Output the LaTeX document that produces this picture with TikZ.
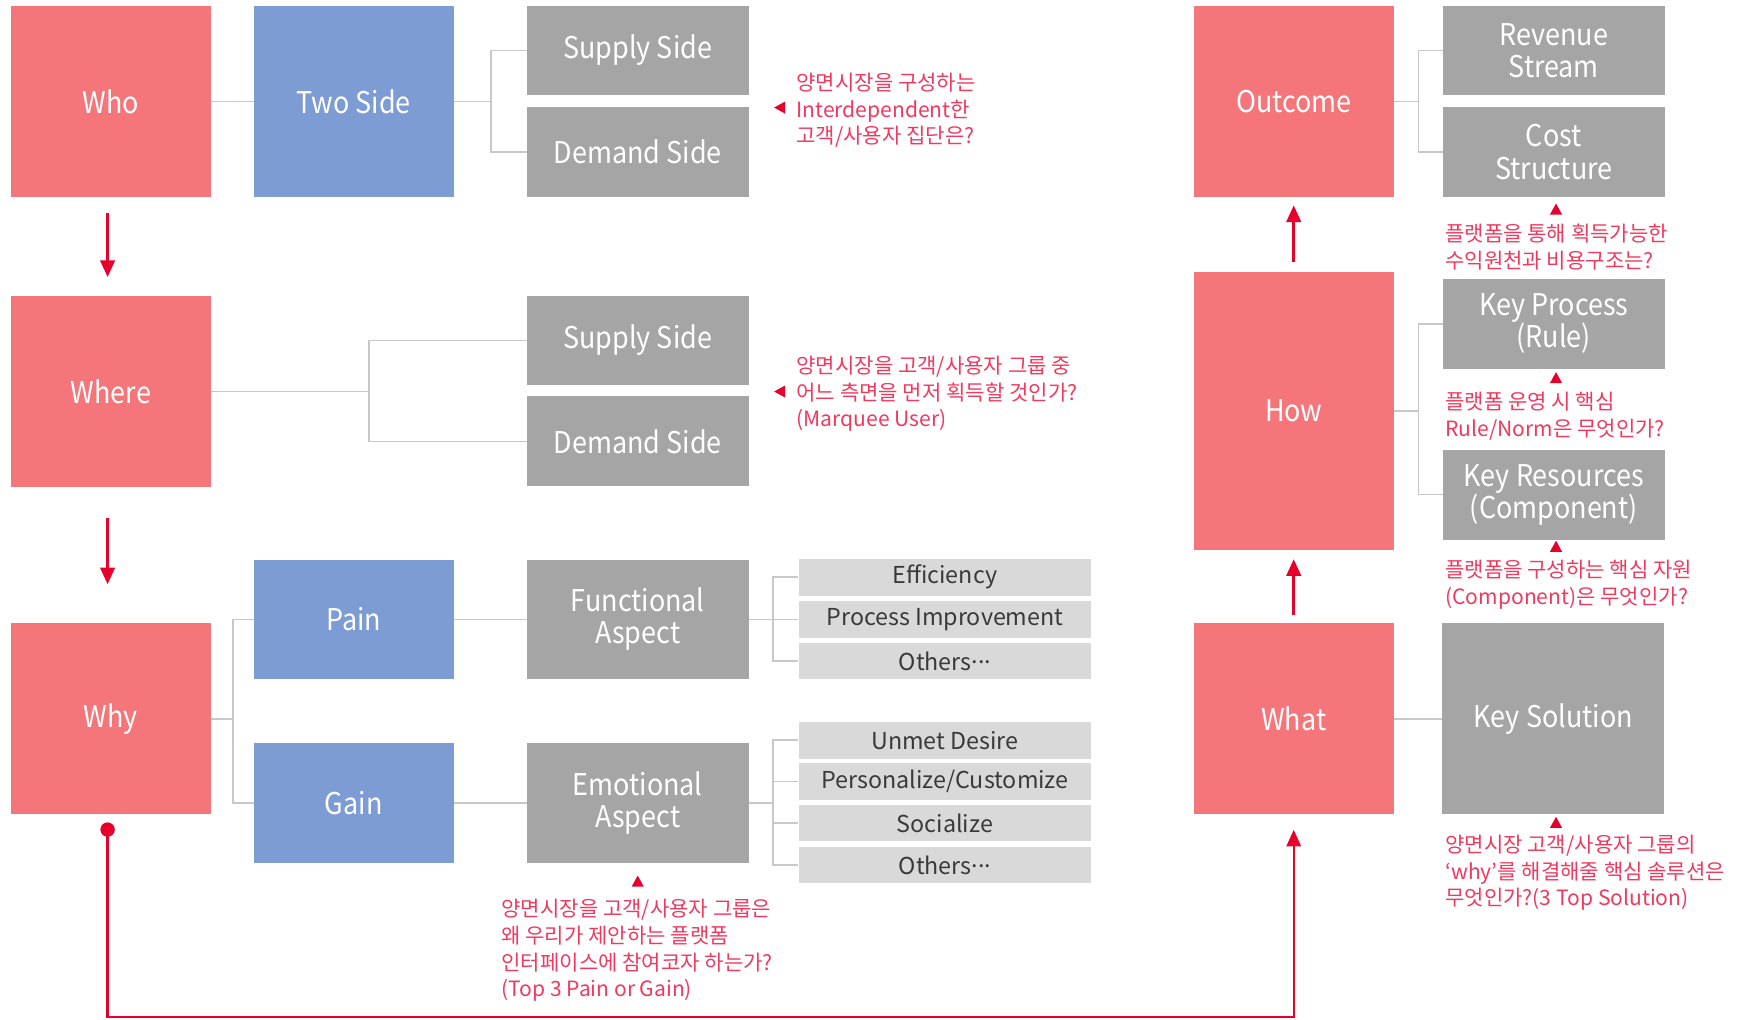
\documentclass[tikz,border=0pt]{standalone}
\usepackage{fontspec}
\newfontfamily\krfont{Noto Sans CJK KR}
\newfontfamily\krnarrow[FakeStretch=0.9]{Noto Sans CJK KR}
\usetikzlibrary{shapes,arrows.meta}

\definecolor{boxred}{HTML}{F4767A}
\definecolor{boxblue}{HTML}{7D9CD4}
\definecolor{boxgray}{HTML}{A5A5A5}
\definecolor{itemgray}{HTML}{D9D9D9}
\definecolor{itemtext}{HTML}{3A3A3A}
\definecolor{linegray}{HTML}{C8C8C8}
\definecolor{arrowred}{HTML}{E8002D}
\definecolor{notered}{HTML}{EF3A5F}

\tikzset{
  base/.style={inner sep=0pt, align=center, text=white,
    font=\krnarrow\fontsize{27}{29}\selectfont},
  redbox/.style={base, fill=boxred, minimum width=180, minimum height=173},
  bluebox/.style={base, fill=boxblue, minimum width=180, minimum height=108},
  graybox/.style={base, fill=boxgray, minimum width=200, minimum height=81},
  itembox/.style={inner sep=0pt, fill=itemgray, text=itemtext, minimum width=264,
    minimum height=33, font=\krfont\fontsize{21}{24}\selectfont},
  note/.style={inner sep=0pt, anchor=west, align=left, text=notered,
    font=\krfont\fontsize{19}{24}\selectfont},
  conn/.style={linegray, line width=1.5},
  bigarrow/.style={arrowred, line width=2.5, -{Triangle[length=15,width=13]}}
}
\newcommand\leftmarker[1]{\fill[arrowred] (#1) ++(-5,0) -- ++(10,-5.5) -- ++(0,11) -- cycle;}
\newcommand\upmarker[1]{\fill[arrowred] (#1) ++(-5.5,4.5) -- ++(11,0) -- ++(-5.5,-10) -- cycle;}
\newcommand\middots{\raisebox{0.28em}{...}}

\begin{document}
\begin{tikzpicture}[x=1pt,y=-1pt]
\useasboundingbox (0,0) rectangle (1568,919);

% left column: who / where / why
\node[redbox] (who) at (100,91.5) {Who};
\node[redbox, fill=boxblue] (twoside) at (319,91.5) {Two Side};
\node[graybox] (supply1) at (575,45.5) {Supply Side};
\node[graybox] (demand1) at (575,137) {Demand Side};
\coordinate (tsfork) at (443,91.5);
\draw[conn] (who) -- (twoside);
\draw[conn] (twoside) -- (tsfork);
\draw[conn] (tsfork) |- (supply1);
\draw[conn] (tsfork) |- (demand1);
\leftmarker{703,97}
\node[note] (note1) at (718,99.5) {양면시장을 구성하는\\Interdependent한\\고객/사용자 집단은?};

\node[redbox, minimum height=172] (where) at (100,353) {Where};
\node[graybox] (supply2) at (575,307) {Supply Side};
\node[graybox] (demand2) at (575,398) {Demand Side};
\coordinate (wherefork) at (333,353);
\draw[conn] (where) -- (wherefork);
\draw[conn] (wherefork) |- (supply2);
\draw[conn] (wherefork) |- (demand2);
\leftmarker{703,353}
\node[note] (note2) at (718,355) {양면시장을 고객/사용자 그룹 중\\어느 측면을 먼저 획득할 것인가?\\(Marquee User)};

\node[redbox, minimum height=172] (why) at (100,648) {Why};
\node[bluebox] (pain) at (319,558.5) {Pain};
\node[bluebox] (gain) at (319,724) {Gain};
\node[graybox, minimum height=108] (func) at (575,558.5) {Functional\\Aspect};
\node[graybox, minimum height=108] (emo) at (575,724) {Emotional\\Aspect};
\coordinate (whyfork) at (210,648);
\draw[conn] (why) -- (whyfork);
\draw[conn] (whyfork) |- (pain);
\draw[conn] (whyfork) |- (gain);
\draw[conn] (pain) -- (func);
\draw[conn] (gain) -- (emo);

\coordinate (funcfork) at (697,558.5);
\draw[conn] (func) -- (funcfork);
\foreach \name/\txt/\y in {eff/Efficiency/520.5, proc/Process Improvement/558.5, othA/Others\middots/596} {
  \node[itembox] (\name) at (852,\y) {\txt};
  \draw[conn] (funcfork) |- (\name);
}
\coordinate (emofork) at (697,724);
\draw[conn] (emo) -- (emofork);
\foreach \name/\txt/\y in {unmet/Unmet Desire/667.5, pers/Personalize\slash Customize/704.5, soc/Socialize/742, othB/Others\middots/780} {
  \node[itembox] (\name) at (852,\y) {\txt};
  \draw[conn] (emofork) |- (\name);
}
\upmarker{575,795}
\node[note] (note3) at (452,857) {양면시장을 고객/사용자 그룹은\\왜 우리가 제안하는 플랫폼\\인터페이스에 참여코자 하는가?\\(Top 3 Pain or Gain)};

\draw[bigarrow, shorten <=14, shorten >=17] ([xshift=-3]who.south) -- ([xshift=-3]where.north);
\draw[bigarrow, shorten <=28, shorten >=35] ([xshift=-3]where.south) -- ([xshift=-3]why.north);

% right column: outcome / how / what
\node[redbox] (outcome) at (1166.5,91.5) {Outcome};
\node[graybox] (revenue) at (1401,45.5) {Revenue\\Stream};
\node[graybox] (cost) at (1401,137) {Cost\\Structure};
\coordinate (outfork) at (1279,91.5);
\draw[conn] (outcome) -- (outfork);
\draw[conn] (outfork) |- (revenue);
\draw[conn] (outfork) |- (cost);
\upmarker{1403,189}
\node[note] (note4) at (1303,223) {플랫폼을 통해 획득가능한\\수익원천과 비용구조는?};

\node[redbox, minimum height=251] (how) at (1166.5,370.5) {How};
\node[graybox] (keyproc) at (1401,292) {Key Process\\(Rule)};
\node[graybox] (keyres) at (1401,446) {Key Resources\\(Component)};
\coordinate (howfork) at (1279,370.5);
\draw[conn] (how) -- (howfork);
\draw[conn] (howfork) |- (keyproc);
\draw[conn] (howfork) |- (keyres);
\upmarker{1403,341}
\node[note] (note5) at (1303,375) {플랫폼 운영 시 핵심\\Rule/Norm은 무엇인가?};
\upmarker{1403,493}
\node[note] (note6) at (1303,527) {플랫폼을 구성하는 핵심 자원\\(Component)은 무엇인가?};

\node[redbox, minimum height=172] (what) at (1166.5,648) {What};
\node[graybox, minimum height=172] (keysol) at (1400.5,648) {Key Solution};
\draw[conn] (what) -- (keysol);
\upmarker{1403,742}
\node[note] (note7) at (1303,787) {양면시장 고객/사용자 그룹의\\‘why’를 해결해줄 핵심 솔루션은\\무엇인가?(3 Top Solution)};

\draw[bigarrow, shorten <=9, shorten >=7] (how) -- (outcome);
\draw[bigarrow, shorten <=7, shorten >=8] (what) -- (how);

% loop from why back to what
\coordinate (loopstart) at (97,748);
\coordinate (loopcorner) at (97,917);
\fill[arrowred] (loopstart) circle (6.5);
\draw[bigarrow, line width=2, shorten >=14] (loopstart) -- (loopcorner) -| (what.south);
\end{tikzpicture}
\end{document}
